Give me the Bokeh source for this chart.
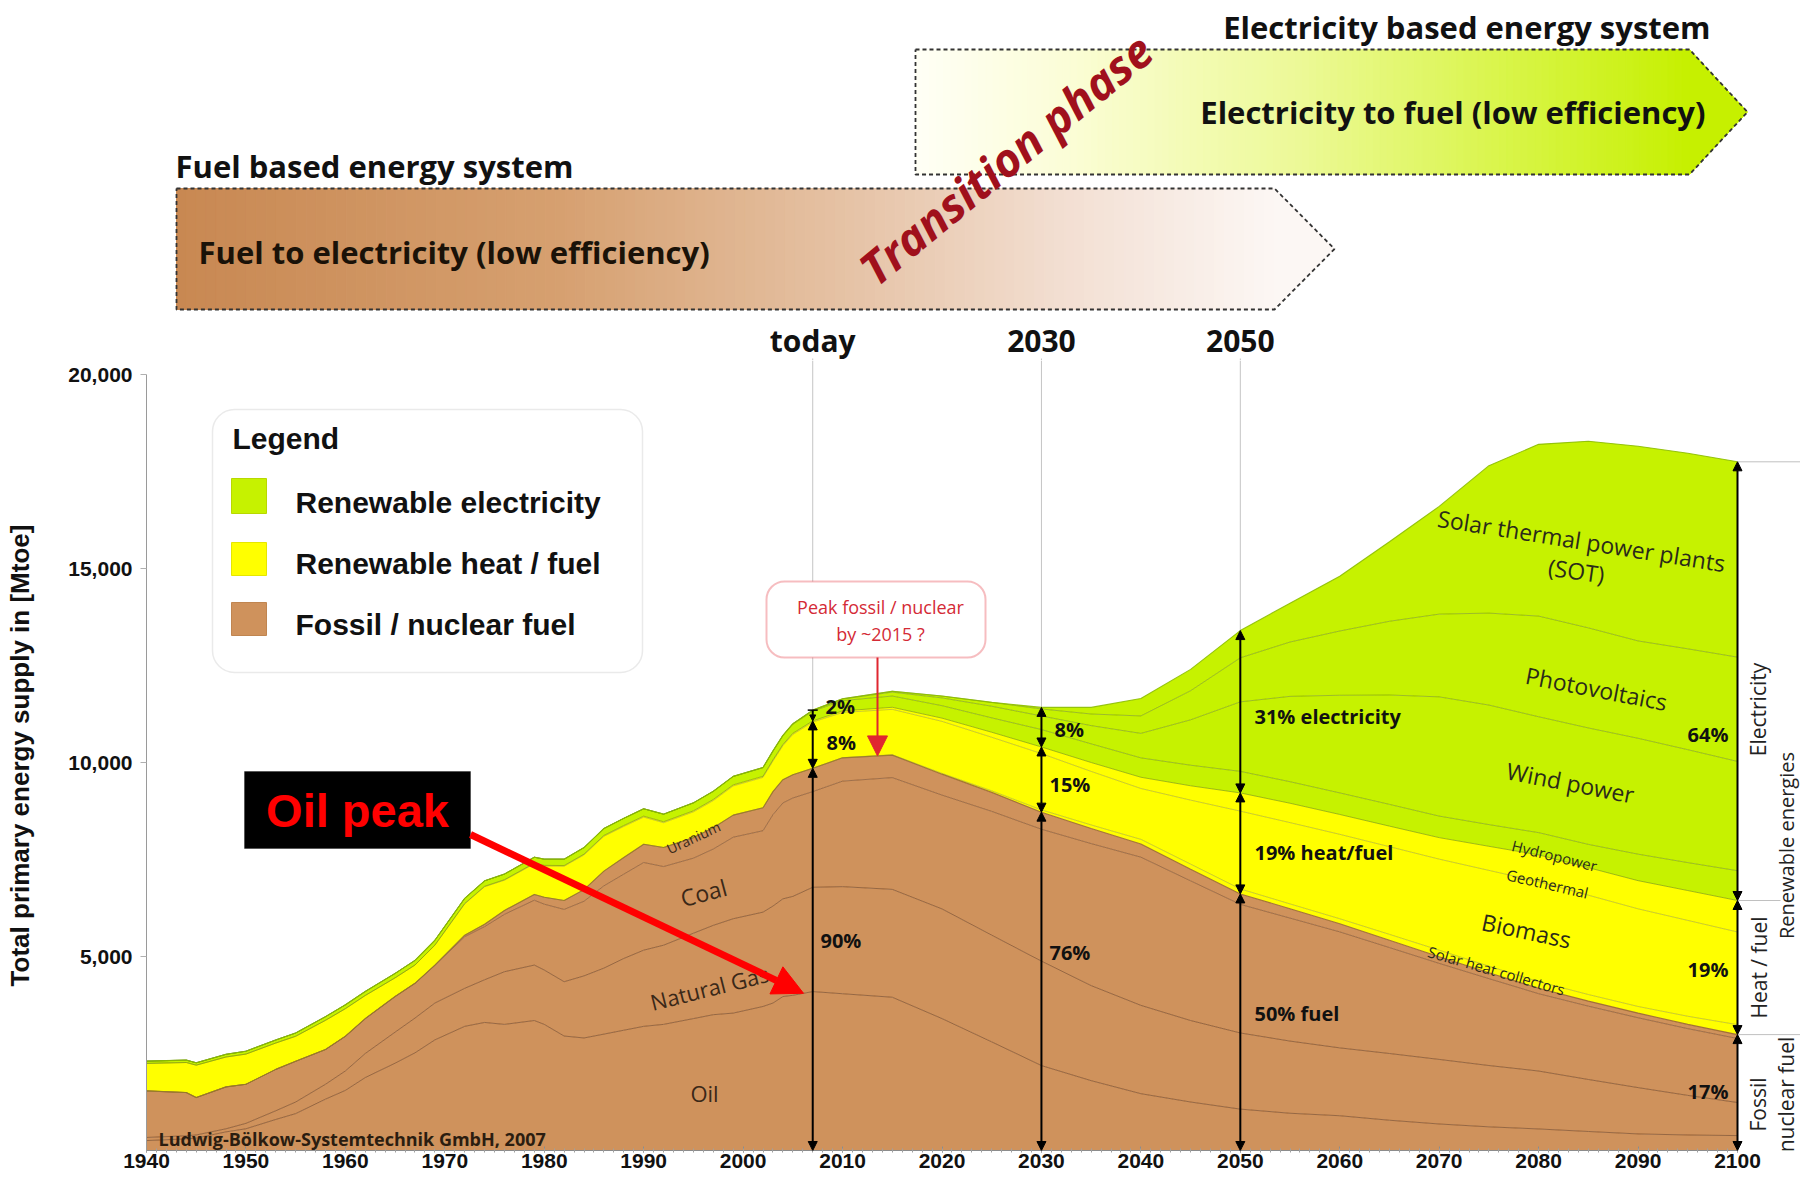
import numpy as np
from bokeh.plotting import figure
from bokeh.layouts import column
from bokeh.models import (ColumnDataSource, Range1d, FixedTicker, SingleIntervalTicker,
                          NumeralTickFormatter, Arrow, NormalHead, TeeHead, BoxAnnotation, Label)
from bokeh.embed import file_html
from bokeh.resources import INLINE

# ---------------- data (Mtoe) ----------------
years = [1940, 1944, 1945, 1948, 1950, 1953, 1955, 1958, 1960, 1962, 1965, 1967, 1969, 1972, 1974, 1976,
         1979, 1980, 1982, 1984, 1986, 1988, 1990, 1992, 1995, 1997, 1999, 2002, 2003, 2004, 2005, 2007,
         2010, 2015, 2020, 2025, 2030, 2035, 2040, 2045, 2050, 2055, 2060, 2065, 2070, 2075, 2080, 2085,
         2090, 2095, 2100]

oil = [256, 300, 320, 480, 560, 800, 950, 1323, 1550, 1880, 2250, 2517, 2850, 3200, 3300, 3250,
       3350, 3250, 2950, 2900, 3000, 3100, 3200, 3250, 3400, 3500, 3541, 3712, 3800, 3968, 4000, 4096,
       4040, 3950, 3400, 2800, 2189, 1800, 1464, 1250, 1067, 960, 896, 780, 683, 610, 555, 490,
       427, 400, 384]
natural_gas = [80, 80, 80, 80, 140, 224, 300, 384, 500, 620, 800, 896, 950, 980, 1100, 1358,
               1429, 1401, 1400, 1600, 1700, 1849, 1963, 2041, 2200, 2303, 2432, 2432, 2500, 2517, 2550, 2688,
               2760, 2780, 2826, 2750, 2691, 2450, 2276, 2100, 1962, 1860, 1749, 1720, 1664, 1580, 1493, 1340,
               1194, 1020, 853]
coal = [1200, 1113, 965, 1080, 1007, 1067, 1050, 896, 894, 900, 918, 896, 970, 1330, 1370, 1479,
        1671, 1697, 1863, 1924, 2120, 2173, 2260, 2027, 1934, 1967, 2101, 2098, 2355, 2472, 2535, 2466,
        2720, 2880, 2934, 3190, 3400, 3660, 3820, 3600, 3314, 3170, 2990, 2730, 2475, 2240, 1993, 1890,
        1800, 1720, 1650]
uranium = [0, 0, 0, 0, 0, 0, 0, 0, 0, 0, 0, 0, 10, 40, 60, 100,
           150, 180, 230, 300, 380, 430, 470, 490, 530, 550, 570, 590, 595, 600, 600, 600,
           600, 580, 540, 490, 440, 390, 340, 300, 270, 240, 210, 190, 170, 150, 140, 130,
           120, 110, 100]
solar_heat = [0, 0, 0, 0, 0, 0, 0, 0, 0, 0, 0, 0, 0, 0, 0, 0,
              0, 0, 0, 0, 0, 0, 0, 0, 0, 0, 0, 0, 0, 0, 0, 0,
              5, 10, 20, 40, 60, 90, 120, 130, 128, 125, 128, 150, 171, 170, 171, 170,
              171, 210, 256]
biomass = [708, 775, 834, 770, 778, 679, 644, 752, 711, 595, 482, 471, 509, 805, 968, 779,
           789, 804, 883, 894, 898, 800, 700, 640, 664, 699, 752, 784, 789, 876, 1039, 1192,
           1165, 1170, 1340, 1380, 1450, 1380, 1310, 1650, 2006, 2095, 2176, 2260, 2346, 2470, 2577, 2560,
           2517, 2470, 2389]
geothermal = [0, 0, 0, 0, 0, 0, 0, 0, 0, 0, 0, 0, 5, 10, 12, 14,
              16, 17, 18, 20, 22, 24, 25, 26, 27, 28, 28, 29, 29, 30, 30, 30,
              40, 53, 84, 130, 170, 230, 290, 370, 469, 500, 512, 530, 555, 620, 691, 710,
              726, 770, 811]
hydropower = [60, 62, 62, 70, 75, 80, 85, 95, 100, 105, 115, 120, 125, 135, 140, 145,
              155, 160, 165, 170, 180, 185, 190, 195, 205, 210, 215, 220, 222, 225, 230, 250,
              265, 290, 320, 370, 450, 480, 500, 530, 555, 555, 555, 560, 555, 560, 572, 600,
              682, 720, 768]
wind_power = [0, 0, 0, 0, 0, 0, 0, 0, 0, 0, 0, 0, 0, 0, 0, 0,
              0, 0, 0, 0, 0, 0, 0, 0, 0, 2, 4, 8, 10, 12, 15, 25,
              40, 100, 200, 300, 350, 470, 630, 1170, 1792, 2200, 2517, 2820, 3072, 3080, 2987, 3000,
              2987, 2910, 2816]
photovoltaics = [0, 0, 0, 0, 0, 0, 0, 0, 0, 0, 0, 0, 0, 0, 0, 0,
                 0, 0, 0, 0, 0, 0, 0, 0, 0, 0, 0, 0, 0, 0, 1, 3,
                 10, 25, 48, 100, 180, 300, 450, 750, 1135, 1400, 1656, 1900, 2133, 2370, 2594, 2580,
                 2509, 2600, 2688]
solar_thermal = [0, 0, 0, 0, 0, 0, 0, 0, 0, 0, 0, 0, 0, 0, 0, 0,
                 0, 0, 0, 0, 0, 0, 0, 0, 0, 0, 0, 0, 0, 0, 0, 0,
                 0, 0, 0, 0, 40, 170, 450, 550, 702, 1000, 1411, 2050, 2776, 3800, 4427, 4810,
                 5017, 5040, 5035]

layer_names = ["oil", "natural_gas", "coal", "uranium", "solar_heat", "biomass", "geothermal",
               "hydropower", "wind_power", "photovoltaics", "solar_thermal"]
y_ticks = [5000, 10000, 15000, 20000]
milestones = [("today", 2007), ("2030", 2030), ("2050", 2050)]
legend_items = ["Renewable electricity", "Renewable heat / fuel", "Fossil / nuclear fuel"]

# ---------------- layout / styles ----------------
FOSSIL = "#cf925c"
HEAT = "#ffff00"
ELEC = "#c6f200"
layer_colors = [FOSSIL] * 4 + [HEAT] * 3 + [ELEC] * 4

W = 1800
TOP_H = 360                       # height of the banner strip
MAIN_H = 1178 - TOP_H
LEFT, BOTTOM = 146, 28
PX_PER_YEAR = 1591 / 160          # 1940 -> 2100 spans 1591 px
ZERO_ROW = 1150                   # page row of 0 Mtoe
MTOE_PER_PX = 20000 / (ZERO_ROW - 374)


def lx(px):   # page column -> year
    return 1940 + (px - LEFT) / PX_PER_YEAR


def ly(py):   # page row -> Mtoe
    return (ZERO_ROW - py) * MTOE_PER_PX


def rgb_hex(c):
    return "#%02x%02x%02x" % tuple(int(round(v)) for v in c)


# ================= banner strip (top) =================
pt = figure(width=W, height=TOP_H, output_backend="svg", toolbar_location=None,
            x_range=Range1d(1940, lx(W)), y_range=Range1d(TOP_H, 0),
            x_axis_location=None, y_axis_location=None,
            min_border_left=LEFT, min_border_right=0, min_border_top=0, min_border_bottom=0)
pt.outline_line_color = None
pt.grid.visible = False
pt.background_fill_color = "white"
pt.border_fill_color = "white"


def banner(x0, x1, tip, ytop, ybot, stops, n=110):
    edges = np.linspace(x0, x1, n + 1)
    t = ((edges[:-1] + edges[1:]) / 2 - x0) / (x1 - x0)
    st = [s[0] for s in stops]
    cols = [rgb_hex([np.interp(tt, st, [s[1][k] for s in stops]) for k in range(3)]) for tt in t]
    pt.quad(left=edges[:-1], right=edges[1:], bottom=ybot, top=ytop,
            fill_color=cols, line_color=cols, line_width=1)
    last = rgb_hex(stops[-1][1])
    mid = (ytop + ybot) / 2
    pt.patch([x1, tip, x1], [ytop, mid, ybot], fill_color=last, line_color=last, line_width=1)
    pt.line([x0, x1, tip, x1, x0, x0], [ytop, ytop, mid, ybot, ybot, ytop],
            line_color="#333333", line_width=1.8, line_dash="4 3")


def label_top(px, py, text, size, font="Open Sans", style="bold", color="#111111",
              align="left", angle=0, x=None):
    pt.add_layout(Label(x=lx(px) if x is None else x, y=py, text=text, text_font=font,
                        text_font_style=style, text_font_size=f"{size}px", text_color=color,
                        text_align=align, text_baseline="middle", angle=angle, angle_units="deg"))


banner(lx(176), lx(1274), lx(1334), 188, 309,
       [(0.0, (200, 136, 82)), (0.35, (214, 160, 112)), (0.6, (229, 193, 163)),
        (0.82, (243, 224, 212)), (1.0, (252, 247, 244))])
banner(lx(915), lx(1689), lx(1747), 49, 174,
       [(0.0, (255, 255, 246)), (0.2, (251, 253, 214)), (0.5, (236, 249, 150)),
        (0.8, (214, 244, 62)), (1.0, (198, 240, 0))])

label_top(175, 165, "Fuel based energy system", 31)
label_top(198, 251, "Fuel to electricity (low efficiency)", 31, color="#1a1208")
label_top(1710, 26, "Electricity based energy system", 31, align="right")
label_top(1705, 111, "Electricity to fuel (low efficiency)", 31, align="right")
label_top(1005, 158, "Transition phase", 46, style="bold italic", color="#a0101c",
          align="center", angle=39.5)
for name, yr in milestones:
    label_top(0, 340, name, 30, align="center", x=yr)
pt.segment(x0=[m[1] for m in milestones], y0=358, x1=[m[1] for m in milestones], y1=TOP_H,
           line_color="#c4c4c4", line_width=1)

# ================= main chart =================
p = figure(width=W, height=MAIN_H, output_backend="svg", toolbar_location=None,
           x_range=Range1d(1940, lx(W)), y_range=Range1d(0, ly(TOP_H)),
           min_border_left=LEFT, min_border_right=0, min_border_top=0, min_border_bottom=BOTTOM)
p.outline_line_color = None
p.grid.visible = False
p.background_fill_color = "white"
p.border_fill_color = "white"

xa = p.xaxis[0]
xa.bounds = (1940, 2100)
xa.ticker = SingleIntervalTicker(interval=10, num_minor_ticks=10)
xa.major_label_text_font = "Liberation Sans"
xa.major_label_text_font_style = "bold"
xa.major_label_text_font_size = "21px"
xa.major_label_text_color = "#111111"
xa.axis_line_color = "#8c8c8c"
xa.major_tick_line_color = "#8c8c8c"
xa.minor_tick_line_color = "#a0a0a0"
xa.major_tick_in = 4
xa.major_tick_out = 2
xa.minor_tick_in = 2
xa.minor_tick_out = 2
xa.major_label_standoff = 1

ya = p.yaxis[0]
ya.bounds = (0, 20000)
ya.ticker = FixedTicker(ticks=y_ticks, minor_ticks=[])
ya.formatter = NumeralTickFormatter(format="0,0")
ya.major_label_text_font = "Liberation Sans"
ya.major_label_text_font_style = "bold"
ya.major_label_text_font_size = "21px"
ya.major_label_text_color = "#111111"
ya.axis_line_color = "#9a9a9a"
ya.major_tick_line_color = "#b0b0b0"
ya.major_tick_in = 0
ya.major_tick_out = 6
ya.major_label_standoff = 8
ya.axis_label = "Total primary energy supply in [Mtoe]"
ya.axis_label_text_font = "Liberation Sans"
ya.axis_label_text_font_style = "bold"
ya.axis_label_text_font_size = "26px"
ya.axis_label_text_color = "#111111"
ya.axis_label_standoff = 30


def label(px, py, text, size, font="Open Sans", style="normal", color="#222222",
          align="left", angle=0):
    p.add_layout(Label(x=lx(px), y=ly(py), text=text, text_font=font, text_font_style=style,
                       text_font_size=f"{size}px", text_color=color, text_align=align,
                       text_baseline="middle", angle=angle, angle_units="deg"))


# milestone guide lines (behind the areas)
p.segment(x0=[m[1] for m in milestones], y0=0, x1=[m[1] for m in milestones], y1=ly(TOP_H),
          line_color="#c4c4c4", line_width=1)

# stacked areas
src = ColumnDataSource(dict(year=years, oil=oil, natural_gas=natural_gas, coal=coal, uranium=uranium,
                            solar_heat=solar_heat, biomass=biomass, geothermal=geothermal,
                            hydropower=hydropower, wind_power=wind_power,
                            photovoltaics=photovoltaics, solar_thermal=solar_thermal))
p.varea_stack(stackers=layer_names, x="year", color=layer_colors, source=src)

cum = np.cumsum(np.array([src.data[n] for n in layer_names], dtype=float), axis=0)
line_styles = [("#7a4b28", 0.9, 0.8), ("#7a4b28", 0.9, 0.8), ("#7a4b28", 0.9, 0.7),
               ("#9a6633", 1.1, 0.9), ("#8f8f20", 0.8, 0.6), ("#8f8f20", 0.8, 0.6),
               ("#86a000", 0.9, 0.8), ("#5d7c0c", 0.8, 0.6), ("#5d7c0c", 0.8, 0.6),
               ("#5d7c0c", 0.8, 0.6), ("#8cbc00", 1.1, 0.9)]
for row, (c, w, a) in zip(cum, line_styles):
    p.line(years, row, line_color=c, line_width=w, line_alpha=a)

fossil_top = cum[3]
heat_top = cum[6]
total_top = cum[10]


def at(arr, yr):
    return float(np.interp(yr, years, arr))


# legend
p.add_layout(BoxAnnotation(left=lx(212), right=lx(642), top=ly(409), bottom=ly(672),
                           fill_alpha=0.0, line_color="#b8b8b8", line_width=1.5, border_radius=22))
label(232, 438, "Legend", 30, font="Liberation Sans", style="bold", color="#111111")
p.quad(left=lx(231), right=lx(266), top=[ly(478), ly(542), ly(602)], bottom=[ly(513), ly(575), ly(635)],
       fill_color=[ELEC, HEAT, FOSSIL], line_color=["#b8d800", "#e6e600", "#c08550"], line_width=1)
for txt, yy in zip(legend_items, [502, 563, 624]):
    label(295, yy, txt, 30, font="Liberation Sans", style="bold", color="#111111")

# labels inside areas
BR = "#3a2818"
label(704, 1092, "Oil", 22, color=BR, align="center")
label(709, 987, "Natural Gas", 22, color=BR, align="center", angle=14)
label(703, 892, "Coal", 23, color=BR, align="center", angle=15)
label(693, 837, "Uranium", 14, color=BR, align="center", angle=25)

DK = "#2a2a1a"
label(1581, 540, "Solar thermal power plants", 23, color=DK, align="center", angle=-9)
label(1576, 570, "(SOT)", 23, color=DK, align="center", angle=-8)
label(1596, 688, "Photovoltaics", 23, color=DK, align="center", angle=-11)
label(1570, 782, "Wind power", 23, color=DK, align="center", angle=-11)
label(1554, 855, "Hydropower", 15, color=DK, align="center", angle=-14)
label(1547, 883, "Geothermal", 15, color=DK, align="center", angle=-13)
label(1526, 930, "Biomass", 23, color=DK, align="center", angle=-12)
label(1496, 970, "Solar heat collectors", 15, color=DK, align="center", angle=-16)

label(158, 1138, "Ludwig-Bölkow-Systemtechnik GmbH, 2007", 18, style="bold", color="#2b1d10")


# share arrows
def share_arrow(x, y0, y1, tee=False, size=9):
    start = NormalHead(size=size, fill_color="black", line_color="black")
    end = TeeHead(size=10, line_color="black", line_width=1.5) if tee else \
        NormalHead(size=size, fill_color="black", line_color="black")
    p.add_layout(Arrow(start=start, end=end, x_start=x, y_start=y0, x_end=x, y_end=y1,
                       line_color="black", line_width=2))


for yr in [2007, 2030, 2050, 2100]:
    share_arrow(yr, 0, at(fossil_top, yr))
    share_arrow(yr, at(fossil_top, yr), at(heat_top, yr))
    share_arrow(yr, at(heat_top, yr), at(total_top, yr), tee=(yr == 2007), size=6 if yr == 2007 else 9)

PCT = dict(size=20, style="bold", color="#111111")
label(825, 706, "2%", **PCT)
label(826, 742, "8%", **PCT)
label(820, 940, "90%", **PCT)
label(1054, 729, "8%", **PCT)
label(1049, 784, "15%", **PCT)
label(1049, 952, "76%", **PCT)
label(1254, 716, "31% electricity", **PCT)
label(1254, 852, "19% heat/fuel", **PCT)
label(1254, 1013, "50% fuel", **PCT)
label(1728, 734, "64%", align="right", **PCT)
label(1728, 969, "19%", align="right", **PCT)
label(1728, 1091, "17%", align="right", **PCT)

# right-hand brackets
yb = [at(total_top, 2100), at(heat_top, 2100), at(fossil_top, 2100)]
p.segment(x0=[2100, 2100, 2100], x1=[lx(W), lx(1780), lx(W)], y0=yb, y1=yb,
          line_color="#c0c0c0", line_width=1)
label(1757, 709, "Electricity", 21, align="center", angle=90)
label(1758, 967, "Heat / fuel", 21, align="center", angle=90)
label(1757, 1104, "Fossil", 21, align="center", angle=90)
label(1785, 1094, "nuclear fuel", 21, align="center", angle=90)
label(1786, 845, "Renewable energies", 20, align="center", angle=90)

# peak callout
RED = "#e02630"
p.add_layout(BoxAnnotation(left=lx(766), right=lx(985), top=ly(581), bottom=ly(657), fill_color="white",
                           fill_alpha=1.0, line_color=RED, line_width=2, border_radius=18))
label(880, 606, "Peak fossil / nuclear", 18, color="#d42a36", align="center")
label(880, 633, "by ~2015 ?", 18, color="#d42a36", align="center")
peak_year = lx(877)
p.add_layout(Arrow(end=NormalHead(size=20, fill_color=RED, line_color=RED), start=None,
                   x_start=peak_year, y_start=ly(657), x_end=peak_year, y_end=at(fossil_top, peak_year),
                   line_color=RED, line_width=2))

# oil peak
p.add_layout(BoxAnnotation(left=lx(244), right=lx(470), top=ly(771), bottom=ly(848), fill_color="black",
                           fill_alpha=1.0, line_color="black"))
label(357, 810, "Oil peak", 47, font="Liberation Sans", style="bold", color="#ff0000", align="center")
oil_tip = lx(803)
p.add_layout(Arrow(end=NormalHead(size=30, fill_color="#ff0000", line_color="#ff0000"), start=None,
                   x_start=lx(470), y_start=ly(834), x_end=oil_tip, y_end=at(cum[0], oil_tip),
                   line_color="#ff0000", line_width=7))

layout = column(pt, p, spacing=0)
open("out.html", "w").write(file_html(layout, INLINE))
